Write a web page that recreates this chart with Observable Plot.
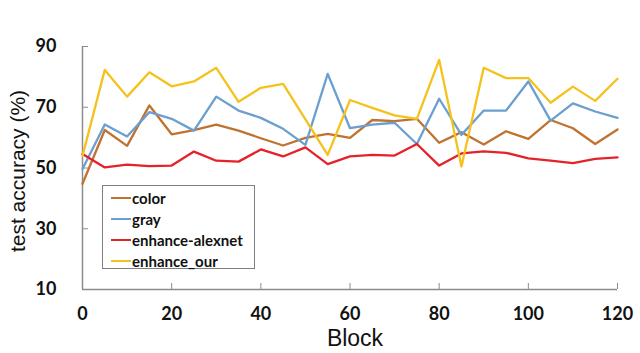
<!DOCTYPE html>
<html>
<head>
<meta charset="utf-8">
<script src="https://cdn.jsdelivr.net/npm/d3@7"></script>
<script src="https://cdn.jsdelivr.net/npm/@observablehq/plot@0.6"></script>
<style>
  html, body { margin: 0; padding: 0; background: #fff; }
  #wrap { position: relative; width: 640px; height: 353px; }
  #legend { position: absolute; left: 102px; top: 185px; width: 153px; height: 84px;
    border: 1px solid #7f7f7f; background: #fff; box-sizing: border-box;
    font-family: Lato, "Open Sans", sans-serif; font-weight: bold; font-size: 15px; color: #111; }
  .item { position: absolute; left: 8px; height: 20px; display: flex; align-items: center; }
  .sw { width: 20px; height: 2px; margin-right: 1px; }
</style>
</head>
<body>
<div id="wrap"><div id="legend"></div></div>
<script>
const blocks = [0,5,10,15,20,25,30,35,40,45,50,55,60,65,70,75,80,85,90,95,100,105,110,115,120];
const seriesNames = ["color", "gray", "enhance-alexnet", "enhance_our"];
const seriesColors = ["#c0722f", "#6b9fcf", "#e52229", "#f5c21b"];
const color = [44.8,62.5,57.3,70.6,61.1,62.5,64.3,62.3,59.8,57.4,59.9,61.2,59.9,65.8,65.4,66.2,58.3,61.8,57.7,62.1,59.6,65.8,63.1,57.9,62.7];
const gray = [49.7,64.3,60.4,68.4,66.2,62.3,73.5,68.9,66.5,62.9,57.6,81.0,63.1,64.3,64.9,57.9,72.8,60.9,68.9,68.9,78.5,65.6,71.3,68.6,66.5];
const alexnet = [54.6,50.2,51.1,50.6,50.8,55.4,52.4,52.1,56.1,53.8,56.8,51.3,53.8,54.3,54.1,57.9,50.8,54.8,55.5,55.0,53.2,52.4,51.6,53.0,53.5];
const ours = [54.0,82.3,73.5,81.5,76.9,78.5,83.0,71.8,76.4,77.7,66.0,54.3,72.4,69.8,67.3,66.2,85.6,50.5,83.0,79.6,79.6,71.5,76.8,72.1,79.4];
const yTicks = [10,30,50,70,90];
const xTicks = [0,20,40,60,80,100,120];
const xTitle = "Block";
const yTitle = "test accuracy (%)";

const allSeries = [color, gray, alexnet, ours];
const rows = [];
allSeries.forEach((vals, si) => vals.forEach((v, i) => rows.push({block: blocks[i], acc: v, series: seriesNames[si]})));

const axisColor = "#8c8c8c";
const titleFont = "'Liberation Sans', Arial, sans-serif";
const chart = Plot.plot({
  width: 640, height: 353,
  marginLeft: 82, marginRight: 23, marginTop: 46, marginBottom: 64,
  style: {fontFamily: "Lato, 'Open Sans', sans-serif", background: "transparent"},
  x: {domain: [0, 120]},
  y: {domain: [10, 90]},
  color: {domain: seriesNames, range: seriesColors},
  marks: [
    Plot.ruleX([0], {stroke: axisColor, strokeWidth: 1.5}),
    Plot.ruleY([10], {stroke: axisColor, strokeWidth: 1.5}),
    Plot.axisY(yTicks, {tickSize: -6, stroke: axisColor, tickFormat: () => "", label: null}),
    Plot.axisX(xTicks.slice(1), {tickSize: -6, stroke: axisColor, tickFormat: () => "", label: null}),
    Plot.axisY(yTicks, {tickSize: 0, tickPadding: 26, fontSize: 18, fontWeight: "bold", fill: "#111", label: null}),
    Plot.axisX(xTicks, {tickSize: 0, tickPadding: 18, fontSize: 18, fontWeight: "bold", fill: "#111", label: null}),
    Plot.text([xTitle], {frameAnchor: "bottom", dx: 5, dy: 56, text: d => d, textAnchor: "middle", fontSize: 23, fontFamily: titleFont, fill: "#111"}),
    Plot.text([yTitle], {frameAnchor: "left", dx: -64, dy: 3, rotate: -90, text: d => d, textAnchor: "middle", fontSize: 21, fontFamily: titleFont, fill: "#111"}),
    Plot.line(rows, {x: "block", y: "acc", z: "series", stroke: "series", strokeWidth: 2.3})
  ]
});
document.getElementById("wrap").insertBefore(chart, document.getElementById("legend"));

const legend = document.getElementById("legend");
seriesNames.forEach((name, i) => {
  const d = document.createElement("div");
  d.className = "item";
  d.style.top = (2 + i * 21) + "px";
  d.innerHTML = `<span class="sw" style="background:${seriesColors[i]}"></span><span>${name}</span>`;
  legend.appendChild(d);
});
</script>
</body>
</html>
